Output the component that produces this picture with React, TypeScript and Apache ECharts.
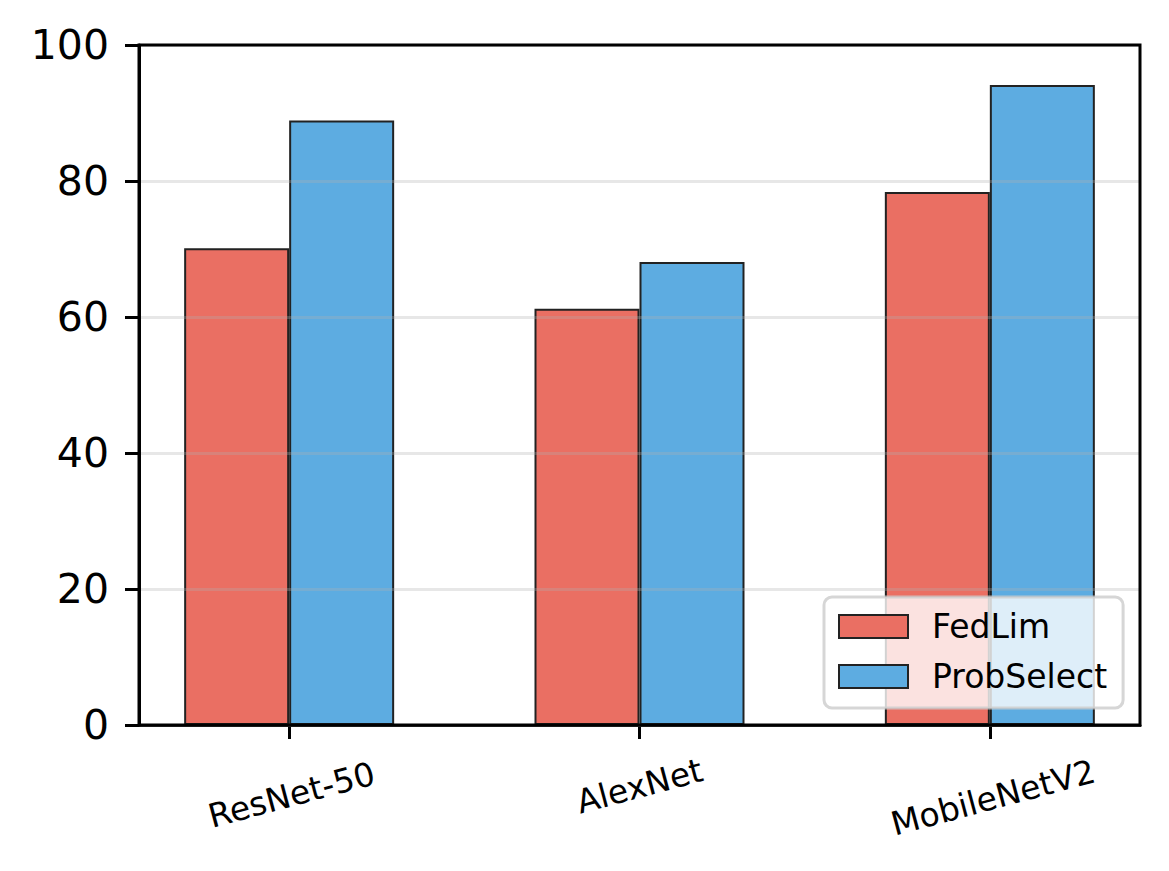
import React, { useEffect, useRef } from "react";
import * as echarts from "echarts";

const categories = ["ResNet-50", "AlexNet", "MobileNetV2"];
const fedLim = [70.1, 61.2, 78.4];
const probSelect = [88.9, 68.1, 94.1];
const yTicks = [0, 20, 40, 60, 80, 100];
const seriesNames = ["FedLim", "ProbSelect"];

const FONT = "DejaVu Sans";

export default function App() {
  const ref = useRef<HTMLDivElement>(null);
  useEffect(() => {
    if (!ref.current) return;
    const chart = echarts.init(ref.current, null, { renderer: "svg" });
    const edge = { borderColor: "#222222", borderWidth: 2 };
    const lbl = { fontSize: 33, fontFamily: FONT, color: "#000" };
    chart.setOption({
      animation: false,
      backgroundColor: "#ffffff",
      textStyle: { fontFamily: FONT },
      grid: {
        left: 139,
        right: 29,
        top: 45,
        bottom: 146,
        show: true,
        borderColor: "#000000",
        borderWidth: 3,
        backgroundColor: "transparent",
        z: 4,
      },
      xAxis: {
        type: "value",
        min: -0.4286,
        max: 2.4286,
        axisLine: { show: true, onZero: false, lineStyle: { color: "#000", width: 3 } },
        splitLine: { show: false },
        axisTick: {
          show: true,
          customValues: [0, 1, 2],
          length: 14,
          lineStyle: { color: "#000", width: 3 },
        },
        axisLabel: {
          customValues: [0, 1, 2],
          formatter: (v: number) => {
            const i = Math.round(v);
            return `{c${i}|${categories[i] ?? ""}}`;
          },
          rotate: 15,
          align: "center",
          verticalAlign: "middle",
          margin: 61,
          ...lbl,
          rich: {
            c0: { ...lbl, padding: [18, 0, 0, 0] },
            c1: { ...lbl, padding: [0, 0, 0, 0] },
            c2: { ...lbl, padding: [24, 0, 0, 0] },
          },
        },
      },
      yAxis: {
        type: "value",
        min: 0,
        max: 100,
        interval: 20,
        z: 3,
        axisLine: { show: true, onZero: false, lineStyle: { color: "#000", width: 3 } },
        axisTick: { show: true, length: 14, lineStyle: { color: "#000", width: 3 } },
        axisLabel: {
          fontSize: 41,
          color: "#000",
          margin: 30,
          fontFamily: FONT,
          formatter: (v: number) => (yTicks.includes(v) ? String(v) : ""),
        },
        splitLine: {
          show: true,
          lineStyle: { color: "rgba(176,176,176,0.3)", width: 3 },
        },
      },
      legend: {
        orient: "vertical",
        left: 824,
        top: 597,
        padding: [11.5, 16, 13.5, 14],
        itemWidth: 69,
        itemHeight: 23,
        itemGap: 14,
        icon: "rect",
        backgroundColor: "rgba(255,255,255,0.8)",
        borderColor: "rgba(204,204,204,0.8)",
        borderWidth: 3,
        borderRadius: 8,
        z: 10,
        textStyle: {
          fontSize: 33,
          lineHeight: 36,
          color: "#000",
          fontFamily: FONT,
          padding: [0, 0, 0, 19],
        },
        data: seriesNames,
      },
      series: [
        {
          name: seriesNames[0],
          type: "bar",
          barWidth: 105,
          barGap: "0%",
          itemStyle: { color: "#EA6F63", ...edge },
          data: fedLim.map((v, i) => [i, v]),
        },
        {
          name: seriesNames[1],
          type: "bar",
          barWidth: 105,
          barGap: "0%",
          itemStyle: { color: "#5DACE1", ...edge },
          data: probSelect.map((v, i) => [i, v]),
        },
      ],
    });
    return () => chart.dispose();
  }, []);
  return (
    <div
      ref={ref}
      style={{ position: "fixed", left: 0, top: 0, width: 1169, height: 871 }}
    />
  );
}
